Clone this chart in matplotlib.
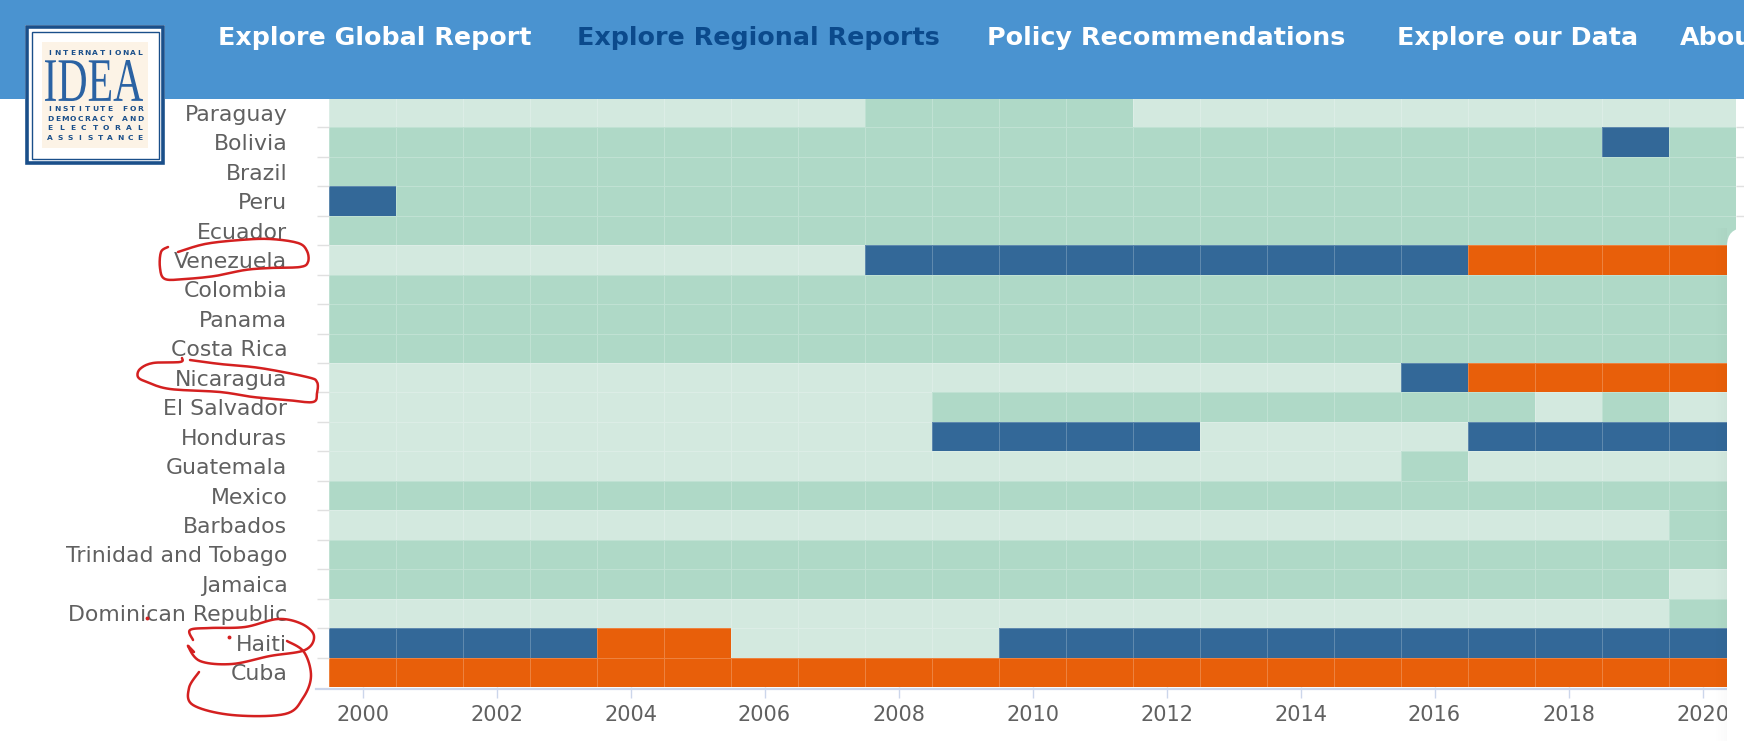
import numpy as np
import matplotlib
matplotlib.use("Agg")
import matplotlib.pyplot as plt
from matplotlib.colors import ListedColormap
from matplotlib.patches import Rectangle, FancyBboxPatch, PathPatch
from matplotlib.lines import Line2D
from matplotlib.transforms import IdentityTransform, Affine2D
from matplotlib.textpath import TextPath
from matplotlib.font_manager import FontProperties

# ---------------- data ----------------
years = list(range(2000, 2021))
countries = ["Paraguay", "Bolivia", "Brazil", "Peru", "Ecuador", "Venezuela",
             "Colombia", "Panama", "Costa Rica", "Nicaragua", "El Salvador",
             "Honduras", "Guatemala", "Mexico", "Barbados", "Trinidad and Tobago",
             "Jamaica", "Dominican Republic", "Haiti", "Cuba"]
# regime type per year 2000..2020:
# W = weak democracy, M = mid-range democracy, H = hybrid regime, A = authoritarian
regime_rows = [
    "WWWWWWWWMMMMWWWWWWWWW",  # Paraguay
    "MMMMMMMMMMMMMMMMMMMHM",  # Bolivia
    "MMMMMMMMMMMMMMMMMMMMM",  # Brazil
    "HMMMMMMMMMMMMMMMMMMMM",  # Peru
    "MMMMMMMMMMMMMMMMMMMMM",  # Ecuador
    "WWWWWWWWHHHHHHHHHAAAA",  # Venezuela
    "MMMMMMMMMMMMMMMMMMMMM",  # Colombia
    "MMMMMMMMMMMMMMMMMMMMM",  # Panama
    "MMMMMMMMMMMMMMMMMMMMM",  # Costa Rica
    "WWWWWWWWWWWWWWWWHAAAA",  # Nicaragua
    "WWWWWWWWWMMMMMMMMMWMW",  # El Salvador
    "WWWWWWWWWHHHHWWWWHHHH",  # Honduras
    "WWWWWWWWWWWWWWWWMWWWW",  # Guatemala
    "MMMMMMMMMMMMMMMMMMMMM",  # Mexico
    "WWWWWWWWWWWWWWWWWWWWM",  # Barbados
    "MMMMMMMMMMMMMMMMMMMMM",  # Trinidad and Tobago
    "MMMMMMMMMMMMMMMMMMMMW",  # Jamaica
    "WWWWWWWWWWWWWWWWWWWWM",  # Dominican Republic
    "HHHHAAWWWWHHHHHHHHHHH",  # Haiti
    "AAAAAAAAAAAAAAAAAAAAA",  # Cuba
]
category_codes = "WMHA"
category_colors = ["#d3e9df", "#afd9c7", "#336898", "#e85f0a"]
tick_years = years[::2]
nav_items = ["Explore Global Report", "Explore Regional Reports",
             "Policy Recommendations", "Explore our Data", "About"]

# ---------------- layout ----------------
W, H = 1744, 741
DPI = 100
fig = plt.figure(figsize=(W / DPI, H / DPI), dpi=DPI, facecolor="white")


def fx(x):
    return x / W


def fy(y):
    return 1 - y / H


left, right, top, bottom = 329, 1736, 98, 687
ax = fig.add_axes([fx(left), fy(bottom), fx(right - left), (bottom - top) / H])

Z = np.array([[category_codes.index(c) for c in row] for row in regime_rows])
x_edges = np.arange(years[0] - 0.5, years[-1] + 1.0, 1.0)
y_edges = np.arange(-0.5, len(countries), 1.0)
ax.pcolormesh(x_edges, y_edges, Z, cmap=ListedColormap(category_colors),
              vmin=-0.5, vmax=3.5, edgecolors=(1, 1, 1, 0.22), linewidth=0.7)
ax.set_xlim(x_edges[0], x_edges[-1])
ax.set_ylim(len(countries) - 0.5, -0.5)

for s in ax.spines.values():
    s.set_visible(False)

ax.set_xticks(tick_years)
ax.set_xticklabels([str(y) for y in tick_years])
ax.tick_params(axis="x", length=8, width=1, color="#ccd6eb",
               labelcolor="#606060", labelsize=15, pad=5)
ax.set_yticks(range(len(countries)))
ax.set_yticklabels(countries)
ax.tick_params(axis="y", which="major", length=0, labelcolor="#606060",
               labelsize=15.8, pad=30)
ax.set_yticks(np.arange(0.5, len(countries) - 1, 1.0), minor=True)
ax.tick_params(axis="y", which="minor", length=9, width=1, color="#e0e0e0",
               right=True, left=True)
for lab in ax.get_xticklabels() + ax.get_yticklabels():
    lab.set_fontfamily("DejaVu Sans")

# x axis line
fig.lines.append(Line2D([fx(316), fx(1744)], [fy(689), fy(689)],
                        transform=fig.transFigure, color="#ccd6eb", lw=1.6,
                        zorder=3))

# ---------------- header ----------------
fig.patches.append(Rectangle((0, fy(99)), 1, 99 / H, transform=fig.transFigure,
                             facecolor="#4a93d0", edgecolor="none", zorder=10))
nav_x = [218, 577, 987, 1397, 1680]
nav_colors = ["white", "#0b4a8c", "white", "white", "white"]
for label, x, c in zip(nav_items, nav_x, nav_colors):
    fig.text(fx(x), fy(45), label, color=c, fontsize=18.3, fontweight="heavy",
             family="DejaVu Sans", ha="left", va="baseline", zorder=11)

# ---------------- popup at right ----------------
ident = IdentityTransform()
for k in range(12):
    a = 0.018 * (12 - k) / 12
    fig.patches.append(Rectangle((1727 - k - 1, 0), 1, H - 228,
                                 transform=ident, facecolor="black",
                                 edgecolor="none", alpha=a, zorder=12))
fig.patches.append(FancyBboxPatch((1727, -20), 60, H - 228 + 20,
                                  boxstyle="round,pad=0,rounding_size=18",
                                  transform=ident, facecolor="white",
                                  edgecolor="none", zorder=13))

# ---------------- logo ----------------
lax = fig.add_axes([fx(25), fy(165), 140 / W, 140 / H])
lax.set_zorder(20)
lax.set_xlim(0, 140)
lax.set_ylim(140, 0)
lax.axis("off")
navy = "#1a4f8a"
lax.add_patch(Rectangle((0, 0), 140, 140, facecolor="white", edgecolor="none"))
lax.add_patch(Rectangle((2, 2), 136, 136, facecolor="none", edgecolor=navy, lw=2.6))
lax.add_patch(Rectangle((6.5, 6.5), 127, 127, facecolor="none", edgecolor=navy, lw=1.0))
lax.add_patch(Rectangle((17, 17), 106, 106, facecolor="#fcf3e6", edgecolor="none"))

tp = TextPath((0, 0), "IDEA", size=100,
              prop=FontProperties(family="Liberation Serif"))
bb = tp.get_extents()
sx = (118 - 20) / bb.width
sy = (76 - 35) / bb.height
tr = Affine2D().translate(-bb.x0, -bb.y0).scale(sx, -sy).translate(20, 76)
lax.add_patch(PathPatch(tr.transform_path(tp), facecolor="#2a62a3",
                        edgecolor="none"))


def spaced(text, y, x0=25, x1=115, size=5.4):
    n = len(text)
    xs = np.linspace(x0, x1, n)
    for ch, x in zip(text, xs):
        lax.text(x, y, ch, ha="center", va="center", fontsize=size,
                 fontweight="bold", color=navy, family="DejaVu Sans")


spaced("INTERNATIONAL", 28)
spaced("INSTITUTE FOR", 84)
spaced("DEMOCRACY AND", 94)
spaced("ELECTORAL", 103)
spaced("ASSISTANCE", 113)

# ---------------- red hand-drawn annotations ----------------


def catmull(points, n=10):
    p = np.array(points, dtype=float)
    p = np.vstack([p[0], p, p[-1]])
    out = []
    for i in range(1, len(p) - 2):
        p0, p1, p2, p3 = p[i - 1], p[i], p[i + 1], p[i + 2]
        for t in np.linspace(0, 1, n, endpoint=False):
            t2, t3 = t * t, t * t * t
            out.append(0.5 * ((2 * p1) + (-p0 + p2) * t +
                              (2 * p0 - 5 * p1 + 4 * p2 - p3) * t2 +
                              (-p0 + 3 * p1 - 3 * p2 + p3) * t3))
    out.append(p[-2])
    return np.array(out)


red_strokes = [
    [(178, 252), (205, 244), (240, 240), (270, 239), (298, 243), (307, 251),
     (308, 262), (300, 267), (270, 268), (245, 270), (215, 276), (185, 279),
     (165, 279), (160, 268), (161, 252), (168, 247)],
    [(182, 358), (180, 362), (153, 363), (140, 369), (138, 377), (147, 382),
     (170, 389), (220, 392), (253, 397), (287, 400), (313, 402), (317, 393),
     (317, 382), (307, 377), (260, 368), (220, 364), (190, 360)],
    [(193, 640), (190, 630), (210, 628), (245, 627), (278, 619), (302, 624),
     (314, 636), (305, 650), (270, 656), (232, 664), (200, 661), (188, 646),
     (194, 652)],
    [(287, 641), (304, 652), (311, 676), (303, 698), (285, 714), (232, 715),
     (193, 705), (189, 688), (199, 672)],
]
for stroke in red_strokes:
    c = catmull(stroke)
    fig.lines.append(Line2D(fx(c[:, 0]), fy(c[:, 1]), transform=fig.transFigure,
                            color="#d42020", lw=1.8, solid_capstyle="round",
                            zorder=15))
for (x, y) in [(229, 637), (147, 618)]:
    fig.lines.append(Line2D([fx(x)], [fy(y)], transform=fig.transFigure,
                            marker="o", ms=1.8, color="#d42020", lw=0,
                            zorder=15))

fig.savefig("out.png", dpi=DPI, facecolor="white")
